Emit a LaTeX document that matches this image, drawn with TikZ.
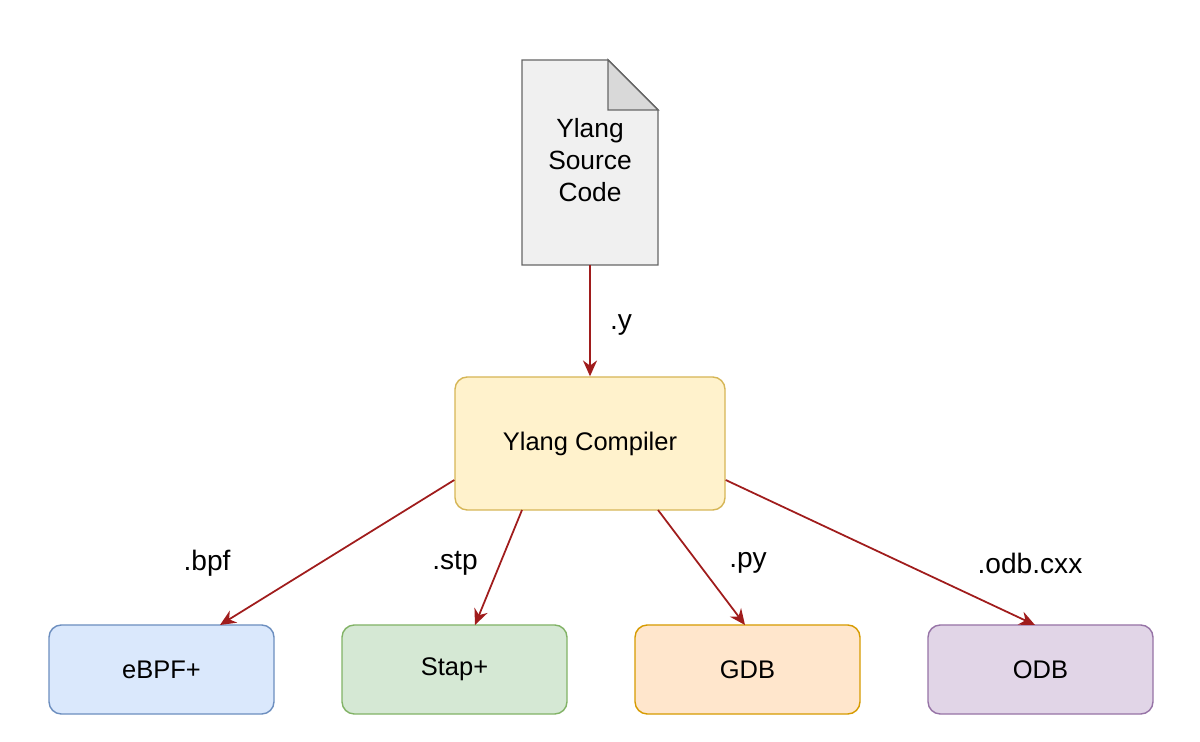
\documentclass[tikz,border=0pt]{standalone}
\usepackage{fontspec}
\setmainfont{Liberation Sans}
\usetikzlibrary{arrows.meta}
\definecolor{arr}{HTML}{A01C1C}
\begin{document}
\begin{tikzpicture}[x=0.02cm,y=-0.02cm,
  box/.style={draw,rounded corners=7pt,line width=0.8pt,minimum width=225*0.02cm,minimum height=89*0.02cm,font=\fontsize{14.5}{16}\selectfont},
  con/.style={draw=arr,line width=1pt,-{Stealth[length=9pt,width=8pt]}},
  lab/.style={font=\fontsize{16}{18}\selectfont}]
\useasboundingbox[fill=white] (0,0) rectangle (1200,742);
\draw[fill=black!6,draw=black!60,line width=0.8pt] (522,60) -- (608,60) -- (658,110) -- (658,265) -- (522,265) -- cycle;
\draw[fill=black!15,draw=black!60,line width=0.8pt] (608,60) -- (608,110) -- (658,110) -- cycle;
\node[font=\fontsize{15}{18}\selectfont,align=center] (doc) at (590,160) {Ylang\\Source\\Code};
\coordinate (docb) at (590,265);
\node[box,fill={rgb,255:red,255;green,242;blue,204},draw={rgb,255:red,214;green,182;blue,86},minimum width=270*0.02cm,minimum height=133*0.02cm] (comp) at (590,443.5) {Ylang Compiler};
\node[box,fill={rgb,255:red,218;green,232;blue,252},draw={rgb,255:red,108;green,142;blue,191}] (ebpf) at (161.5,669.5) {eBPF+};
\node[box,fill={rgb,255:red,213;green,232;blue,212},draw={rgb,255:red,130;green,179;blue,102}] (stap) at (454.5,669.5) {Stap+};
\node[box,fill={rgb,255:red,255;green,230;blue,204},draw={rgb,255:red,215;green,155;blue,0}] (gdb) at (747.5,669.5) {GDB};
\node[box,fill={rgb,255:red,225;green,213;blue,231},draw={rgb,255:red,150;green,115;blue,166}] (odb) at (1040.5,669.5) {ODB};
\draw[con] (docb) -- (comp.north);
\draw[con] (comp.west |- 0,480) -- (220,625);
\draw[con] (522,510) -- (475,625);
\draw[con] (658,510) -- (745,625);
\draw[con] (comp.east |- 0,480) -- (1035,625);
\node[lab] (ly) at (621,325) {.y};
\node[lab] (lb) at (207,563) {.bpf};
\node[lab] (ls) at (455,563) {.stp};
\node[lab] (lp) at (748,563) {.py};
\node[lab] (lo) at (1030,563) {.odb.cxx};
\end{tikzpicture}
\end{document}
